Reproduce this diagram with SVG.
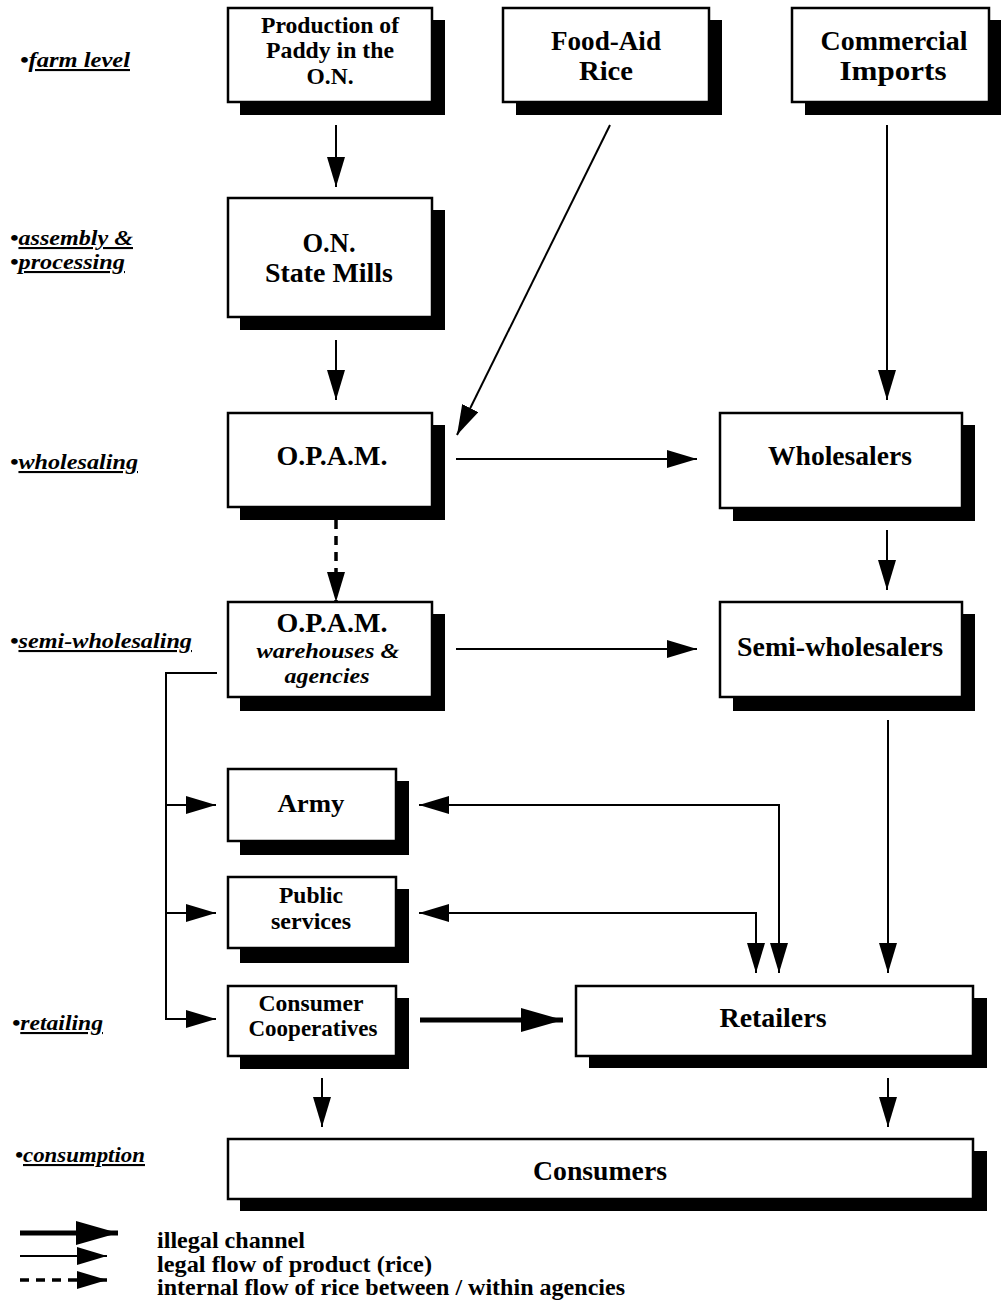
<svg xmlns="http://www.w3.org/2000/svg" width="1001" height="1303" viewBox="0 0 1001 1303">
<style>
.sh{fill:#000}
.bx{fill:#fff;stroke:#000;stroke-width:2.5}
.t{font-family:"Liberation Serif","Times New Roman",serif;font-weight:bold;fill:#000;text-anchor:middle}
.ti{font-family:"Liberation Serif","Times New Roman",serif;font-weight:bold;font-style:italic;fill:#000;text-anchor:middle}
.lb{font-family:"Liberation Serif","Times New Roman",serif;font-weight:bold;font-style:italic;font-size:21px;fill:#000}
.u{text-decoration:underline}
.lg{font-family:"Liberation Serif","Times New Roman",serif;font-weight:bold;font-size:23px;fill:#000}
.c{fill:none;stroke:#000;stroke-width:2}
.cd{fill:none;stroke:#000;stroke-width:3.5;stroke-dasharray:9 7}
.ct{fill:none;stroke:#000;stroke-width:5}
</style>
<defs>
<marker id="ah" markerUnits="userSpaceOnUse" markerWidth="30" markerHeight="20" refX="30" refY="9" orient="auto-start-reverse"><path d="M0,0 L30,9 L0,18 z" fill="#000"/></marker>
<marker id="ahT" markerUnits="userSpaceOnUse" markerWidth="42" markerHeight="26" refX="42" refY="12" orient="auto"><path d="M0,0 L42,12 L0,24 z" fill="#000"/></marker>
</defs>

<g id="labels">
<text class="lb" x="20" y="67" textLength="110" lengthAdjust="spacingAndGlyphs"><tspan>•</tspan><tspan class="u">farm level</tspan></text>
<text class="lb" x="10" y="245" textLength="123" lengthAdjust="spacingAndGlyphs"><tspan>•</tspan><tspan class="u">assembly &amp;</tspan></text>
<text class="lb" x="10" y="269" textLength="115" lengthAdjust="spacingAndGlyphs"><tspan>•</tspan><tspan class="u">processing</tspan></text>
<text class="lb" x="10" y="469" textLength="128" lengthAdjust="spacingAndGlyphs"><tspan>•</tspan><tspan class="u">wholesaling</tspan></text>
<text class="lb" x="10" y="648" textLength="182" lengthAdjust="spacingAndGlyphs"><tspan>•</tspan><tspan class="u">semi-wholesaling</tspan></text>
<text class="lb" x="12" y="1030" textLength="91" lengthAdjust="spacingAndGlyphs"><tspan>•</tspan><tspan class="u">retailing</tspan></text>
<text class="lb" x="15" y="1162" textLength="130" lengthAdjust="spacingAndGlyphs"><tspan>•</tspan><tspan class="u">consumption</tspan></text>
</g>

<g id="n-production">
<rect class="sh" x="240" y="20" width="205" height="95"/>
<rect class="bx" x="228" y="8" width="204" height="94"/>
<text class="t" font-size="23" x="330" y="33" textLength="138" lengthAdjust="spacingAndGlyphs">Production of</text>
<text class="t" font-size="23" x="330" y="58" textLength="128" lengthAdjust="spacingAndGlyphs">Paddy in the</text>
<text class="t" font-size="23" x="330" y="84" textLength="47" lengthAdjust="spacingAndGlyphs">O.N.</text>
</g>

<g id="n-foodaid">
<rect class="sh" x="516" y="20" width="206" height="95"/>
<rect class="bx" x="503" y="8" width="206" height="94"/>
<text class="t" font-size="27" x="606" y="50" textLength="110" lengthAdjust="spacingAndGlyphs">Food-Aid</text>
<text class="t" font-size="27" x="606" y="80" textLength="54" lengthAdjust="spacingAndGlyphs">Rice</text>
</g>

<g id="n-imports">
<rect class="sh" x="805" y="20" width="200" height="95"/>
<rect class="bx" x="792" y="8" width="197" height="94"/>
<text class="t" font-size="27" x="894" y="50" textLength="147" lengthAdjust="spacingAndGlyphs">Commercial</text>
<text class="t" font-size="27" x="893" y="80" textLength="107" lengthAdjust="spacingAndGlyphs">Imports</text>
</g>

<g id="n-mills">
<rect class="sh" x="240" y="210" width="205" height="120"/>
<rect class="bx" x="228" y="198" width="204" height="119"/>
<text class="t" font-size="27" x="329" y="252" textLength="53" lengthAdjust="spacingAndGlyphs">O.N.</text>
<text class="t" font-size="27" x="329" y="282" textLength="128" lengthAdjust="spacingAndGlyphs">State Mills</text>
</g>

<g id="n-opam">
<rect class="sh" x="240" y="425" width="205" height="95"/>
<rect class="bx" x="228" y="413" width="204" height="94"/>
<text class="t" font-size="27" x="332" y="465" textLength="111" lengthAdjust="spacingAndGlyphs">O.P.A.M.</text>
</g>

<g id="n-warehouses">
<rect class="sh" x="240" y="614" width="205" height="97"/>
<rect class="bx" x="228" y="602" width="204" height="95"/>
<text class="t" font-size="27" x="332" y="632" textLength="111" lengthAdjust="spacingAndGlyphs">O.P.A.M.</text>
<text class="ti" font-size="22" x="328" y="658" textLength="143" lengthAdjust="spacingAndGlyphs">warehouses &amp;</text>
<text class="ti" font-size="22" x="327" y="683" textLength="85" lengthAdjust="spacingAndGlyphs">agencies</text>
</g>

<g id="n-wholesalers">
<rect class="sh" x="733" y="425" width="242" height="96"/>
<rect class="bx" x="720" y="413" width="242" height="95"/>
<text class="t" font-size="27" x="840" y="465" textLength="144" lengthAdjust="spacingAndGlyphs">Wholesalers</text>
</g>

<g id="n-semiwholesalers">
<rect class="sh" x="733" y="614" width="242" height="97"/>
<rect class="bx" x="720" y="602" width="242" height="95"/>
<text class="t" font-size="27" x="840" y="656" textLength="206" lengthAdjust="spacingAndGlyphs">Semi-wholesalers</text>
</g>

<g id="n-army">
<rect class="sh" x="240" y="781" width="169" height="74"/>
<rect class="bx" x="228" y="769" width="168" height="72"/>
<text class="t" font-size="26" x="311" y="812" textLength="67" lengthAdjust="spacingAndGlyphs">Army</text>
</g>

<g id="n-public">
<rect class="sh" x="240" y="889" width="169" height="74"/>
<rect class="bx" x="228" y="877" width="168" height="71"/>
<text class="t" font-size="23" x="311" y="903" textLength="64" lengthAdjust="spacingAndGlyphs">Public</text>
<text class="t" font-size="23" x="311" y="929" textLength="80" lengthAdjust="spacingAndGlyphs">services</text>
</g>

<g id="n-coops">
<rect class="sh" x="240" y="998" width="169" height="71"/>
<rect class="bx" x="228" y="986" width="168" height="70"/>
<text class="t" font-size="23" x="311" y="1011" textLength="105" lengthAdjust="spacingAndGlyphs">Consumer</text>
<text class="t" font-size="23" x="313" y="1036" textLength="129" lengthAdjust="spacingAndGlyphs">Cooperatives</text>
</g>

<g id="n-retailers">
<rect class="sh" x="589" y="998" width="398" height="70"/>
<rect class="bx" x="576" y="986" width="397" height="70"/>
<text class="t" font-size="27" x="773" y="1027" textLength="107" lengthAdjust="spacingAndGlyphs">Retailers</text>
</g>

<g id="n-consumers">
<rect class="sh" x="240" y="1151" width="747" height="60"/>
<rect class="bx" x="228" y="1139" width="745" height="60"/>
<text class="t" font-size="27" x="600" y="1180" textLength="134" lengthAdjust="spacingAndGlyphs">Consumers</text>
</g>

<g id="connectors">
<path class="c" d="M336,125 V187" marker-end="url(#ah)"/>
<path class="c" d="M336,340 V400" marker-end="url(#ah)"/>
<path class="c" d="M610,125 L457,435" marker-end="url(#ah)"/>
<path class="c" d="M887,125 V400" marker-end="url(#ah)"/>
<path class="c" d="M456,459 H697" marker-end="url(#ah)"/>
<path class="cd" d="M336,520 V602" marker-end="url(#ah)"/>
<path class="c" d="M456,649 H697" marker-end="url(#ah)"/>
<path class="c" d="M887,530 V590" marker-end="url(#ah)"/>
<path class="c" d="M888,720 V973" marker-end="url(#ah)"/>
<path class="c" d="M217,673 H166 V1020"/>
<path class="c" d="M166,805 H216" marker-end="url(#ah)"/>
<path class="c" d="M166,913 H216" marker-end="url(#ah)"/>
<path class="c" d="M166,1019 H216" marker-end="url(#ah)"/>
<path class="c" d="M419,805 H779 V973" marker-start="url(#ah)" marker-end="url(#ah)"/>
<path class="c" d="M419,913 H756 V973" marker-start="url(#ah)" marker-end="url(#ah)"/>
<path class="ct" d="M420,1020 H563" marker-end="url(#ahT)"/>
<path class="c" d="M322,1078 V1127" marker-end="url(#ah)"/>
<path class="c" d="M888,1078 V1127" marker-end="url(#ah)"/>
</g>

<g id="legend">
<path class="ct" d="M20,1233 H118" marker-end="url(#ahT)"/>
<path class="c" d="M20,1256 H107" marker-end="url(#ah)"/>
<path class="cd" d="M20,1280 H107" marker-end="url(#ah)"/>
<text class="lg" x="157" y="1248" textLength="148" lengthAdjust="spacingAndGlyphs">illegal channel</text>
<text class="lg" x="157" y="1272" textLength="275" lengthAdjust="spacingAndGlyphs">legal flow of product (rice)</text>
<text class="lg" x="157" y="1295" textLength="468" lengthAdjust="spacingAndGlyphs">internal flow of rice between / within agencies</text>
</g>
</svg>
